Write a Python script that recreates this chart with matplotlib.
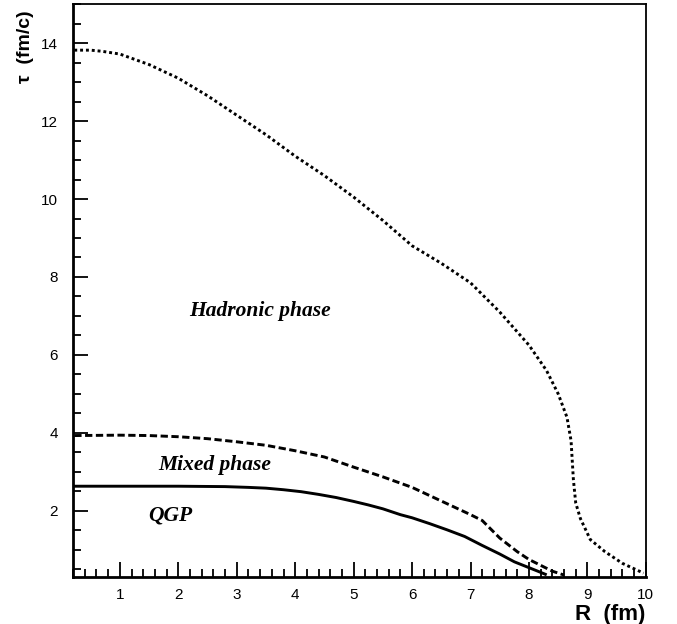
import numpy as np
import matplotlib
matplotlib.use("Agg")
import matplotlib.pyplot as plt
from matplotlib.ticker import MultipleLocator

# freeze-out boundaries, tau (fm/c) vs R (fm)
r_had = [0.22, 0.5, 0.7, 1.0, 1.5, 2.0, 2.5, 3.0, 3.5, 4.0, 4.5, 5.0, 5.5, 6.0, 6.5,
         7.0, 7.5, 8.0, 8.3, 8.5, 8.65, 8.72, 8.76, 8.8, 8.88, 9.05, 9.3, 9.6, 9.96]
tau_had = [13.82, 13.82, 13.79, 13.72, 13.45, 13.1, 12.65, 12.15, 11.65, 11.1, 10.6, 10.05,
           9.45, 8.8, 8.35, 7.85, 7.1, 6.25, 5.6, 5.0, 4.4, 3.8, 2.8, 2.2, 1.8, 1.26,
           0.95, 0.65, 0.4]

r_mix = [0.22, 1.0, 1.5, 2.0, 2.5, 3.0, 3.5, 4.0, 4.5, 5.0, 5.5, 6.0, 6.5, 7.0,
         7.2, 7.5, 7.8, 8.0, 8.2, 8.4, 8.6]
tau_mix = [3.93, 3.94, 3.93, 3.9, 3.85, 3.77, 3.68, 3.54, 3.38, 3.12, 2.87, 2.6, 2.25,
           1.9, 1.75, 1.3, 0.95, 0.75, 0.6, 0.45, 0.35]

r_qgp = [0.22, 1.0, 2.0, 2.8, 3.2, 3.5, 3.8, 4.1, 4.4, 4.7, 5.0, 5.25, 5.5, 5.8, 6.0,
         6.3, 6.6, 6.9, 7.2, 7.5, 7.75, 8.0, 8.15, 8.28]
tau_qgp = [2.63, 2.63, 2.63, 2.62, 2.6, 2.58, 2.54, 2.49, 2.42, 2.34, 2.24, 2.15, 2.05,
           1.9, 1.82, 1.67, 1.51, 1.34, 1.11, 0.89, 0.69, 0.54, 0.45, 0.37]

labels = ["Hadronic phase", "Mixed phase", "QGP"]
label_pos = [(3.4, 7.13), (2.63, 3.18), (1.86, 1.87)]

fig = plt.figure(figsize=(6.77, 6.24), dpi=100)
ax = fig.add_axes([0.108, 0.0753, 0.846, 0.918])

ax.plot(r_had, tau_had, color="black", lw=2.1, linestyle=(0, (1, 1)))
ax.plot(r_mix, tau_mix, color="black", lw=2.1, linestyle=(0, (2.5, 1.2)))
ax.plot(r_qgp, tau_qgp, color="black", lw=2.1)

for txt, (x, y) in zip(labels, label_pos):
    ax.text(x, y, txt, ha="center", va="center", fontsize=15.5,
            family="Liberation Serif", style="italic", weight="bold")

ax.set_xlim(0.2, 10)
ax.set_ylim(0.3, 15)
ax.xaxis.set_major_locator(MultipleLocator(1))
ax.xaxis.set_minor_locator(MultipleLocator(0.2))
ax.yaxis.set_major_locator(MultipleLocator(2))
ax.yaxis.set_minor_locator(MultipleLocator(0.5))
ax.tick_params(which="both", direction="in", top=False, right=False,
               labelsize=11, width=1.3)
ax.tick_params(which="major", length=11)
ax.tick_params(axis="y", which="major", pad=11)
ax.tick_params(axis="x", which="major", pad=8)
ax.tick_params(which="minor", length=6)
for lab in ax.get_xticklabels() + ax.get_yticklabels():
    lab.set_family("Liberation Sans")

for side in ["left", "bottom"]:
    ax.spines[side].set_linewidth(2)
for side in ["top", "right"]:
    ax.spines[side].set_linewidth(1.3)

ax.set_xlabel("R  (fm)", loc="right", fontsize=16, fontweight="bold",
              family="Liberation Sans", labelpad=1)
ax.set_ylabel("τ  (fm/c)", loc="top", fontsize=14, fontweight="bold",
              family="Liberation Sans", labelpad=4)
ax.yaxis.set_label_coords(-0.068, 0.99, transform=ax.transAxes)

fig.savefig("out.png", dpi=100)
